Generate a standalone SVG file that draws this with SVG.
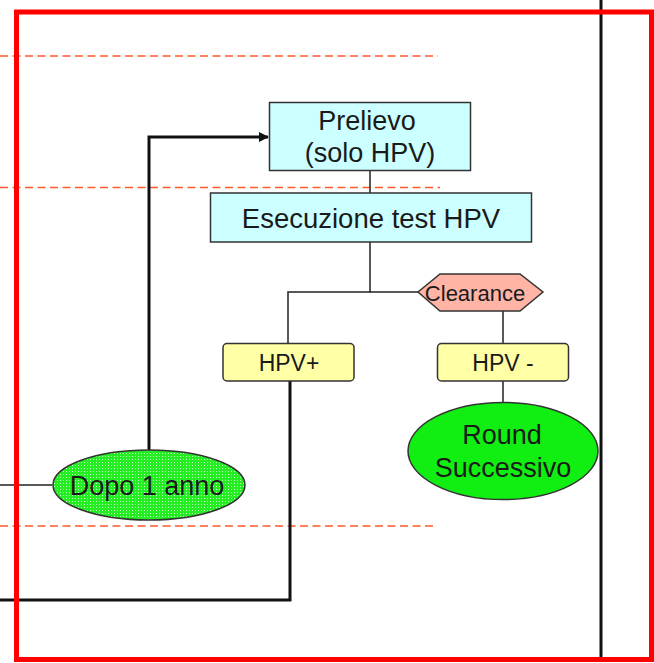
<svg xmlns="http://www.w3.org/2000/svg" width="654" height="663" viewBox="0 0 654 663">
<style>
text{font-family:"Liberation Sans",Arial,sans-serif;fill:#1a1a1a;text-anchor:middle}
.box{stroke:#333;stroke-width:1.5}
.thin{stroke:#222;stroke-width:1.5;fill:none}
.thick{stroke:#111;stroke-width:3;fill:none}
.dash{stroke:#ff5a2a;stroke-width:1.5;stroke-dasharray:8 4.5;fill:none}
</style>
<defs>
<marker id="arr" markerWidth="10" markerHeight="10" refX="9" refY="5" orient="auto" markerUnits="userSpaceOnUse">
<path d="M0,0 L10,5 L0,10 Z" fill="#111"/>
</marker>
<pattern id="dots" width="3" height="3" patternUnits="userSpaceOnUse">
<rect width="3" height="3" fill="#22ee22"/>
<rect x="0" y="0" width="1" height="1" fill="#ccffcc"/>
</pattern>
</defs>
<rect width="654" height="663" fill="#fff"/>
<g id="guides">
<line class="dash" x1="0" y1="56" x2="438" y2="56"/>
<line class="dash" x1="0" y1="187.5" x2="440" y2="187.5"/>
<line class="dash" x1="0" y1="526" x2="436" y2="526"/>
</g>
<g id="connectors">
<line class="thin" x1="370" y1="171" x2="370" y2="193"/>
<polyline class="thin" points="370,242 370,292 288,292 288,343"/>
<line class="thin" x1="370" y1="292" x2="418" y2="292"/>
<line class="thin" x1="503" y1="311" x2="503" y2="343"/>
<line class="thin" x1="503" y1="381" x2="503" y2="403"/>
<line class="thin" x1="0" y1="485" x2="52" y2="485"/>
<polyline class="thick" points="149,450 149,137 268,137" marker-end="url(#arr)"/>
<polyline class="thick" points="290,381 290,600 0,600"/>
</g>
<g id="prelievo">
<rect class="box" x="269.5" y="102.5" width="201" height="68" fill="#ccffff"/>
<text x="367" y="130" font-size="27">Prelievo</text>
<text x="370" y="162" font-size="27">(solo HPV)</text>
</g>
<g id="esecuzione">
<rect class="box" x="210.5" y="193" width="321" height="49" fill="#ccffff"/>
<text x="371" y="228" font-size="27.5">Esecuzione test HPV</text>
</g>
<g id="clearance">
<polygon class="box" points="418,292 440,274 520,274 543,292 520,311 440,311" fill="#ffb4a6"/>
<text x="475" y="300.5" font-size="22">Clearance</text>
</g>
<g id="hpvpos">
<rect class="box" x="223" y="343.5" width="131" height="37.5" rx="4" fill="#ffffa6"/>
<text x="289" y="371" font-size="23">HPV+</text>
</g>
<g id="hpvneg">
<rect class="box" x="437.5" y="343.5" width="131" height="37.5" rx="4" fill="#ffffa6"/>
<text x="503" y="371" font-size="23">HPV -</text>
</g>
<g id="round">
<ellipse class="box" cx="503" cy="451" rx="95" ry="48.5" fill="#11ee11"/>
<text x="502" y="444" font-size="27">Round</text>
<text x="503" y="477" font-size="27">Successivo</text>
</g>
<g id="dopo">
<ellipse class="box" cx="149" cy="485" rx="96" ry="35" fill="url(#dots)"/>
<text x="147" y="495" font-size="27">Dopo 1 anno</text>
</g>
<g id="frame">
<line x1="601" y1="0" x2="601" y2="659" stroke="#111" stroke-width="3"/>
<rect x="16.5" y="12" width="635" height="647.5" fill="none" stroke="#ff0000" stroke-width="5"/>
</g>
</svg>
